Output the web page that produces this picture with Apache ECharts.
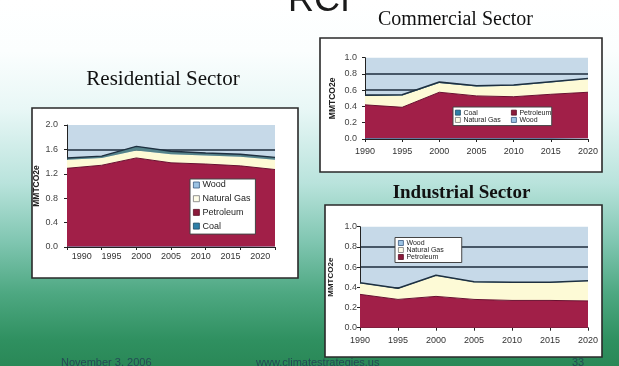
<!DOCTYPE html>
<html>
<head>
<meta charset="utf-8">
<script src="https://cdn.jsdelivr.net/npm/echarts@6/dist/echarts.min.js"></script>
<style>
html,body{margin:0;padding:0;background:#fff;}
#c{width:619px;height:366px;}
</style>
</head>
<body>
<div id="c"></div>
<script>
// ---------- data ----------
const years = ['1990','1995','2000','2005','2010','2015','2020'];

// Residential (MMTCO2e), stacked bottom to top
const resCoal        = [0.01, 0.01, 0.01, 0.01, 0.01, 0.01, 0.01];
const resPetroleum   = [1.28, 1.33, 1.45, 1.37, 1.35, 1.32, 1.26];
const resNaturalGas  = [0.14, 0.12, 0.12, 0.14, 0.14, 0.15, 0.16];
const resWood        = [0.03, 0.03, 0.07, 0.05, 0.04, 0.04, 0.04];

// Commercial
const comCoal        = [0.01, 0.01, 0.01, 0.01, 0.01, 0.01, 0.01];
const comPetroleum   = [0.41, 0.38, 0.565, 0.52, 0.51, 0.54, 0.565];
const comNaturalGas  = [0.11, 0.145, 0.115, 0.115, 0.135, 0.145, 0.16];
const comWood        = [0.01, 0.01, 0.01, 0.01, 0.01, 0.01, 0.01];

// Industrial
const indPetroleum   = [0.33, 0.28, 0.31, 0.28, 0.27, 0.27, 0.265];
const indNaturalGas  = [0.11, 0.105, 0.205, 0.17, 0.175, 0.175, 0.195];
const indWood        = [0.005, 0.005, 0.005, 0.005, 0.005, 0.005, 0.005];

const titles = {
  top: 'RCI',
  res: 'Residential Sector',
  com: 'Commercial Sector',
  ind: 'Industrial Sector'
};
const yName = 'MMTCO2e';
const footer = ['November 3, 2006', 'www.climatestrategies.us', '33'];

// ---------- styles ----------
const SANS = '"Liberation Sans", Arial, sans-serif';
const SERIF = '"Liberation Serif", "Times New Roman", serif';
const C = {
  plotBg: '#c6d9e8',
  grid: '#1d2b3c',
  petro: '#a11f48',
  petroLine: '#6a1030',
  gas: '#fdfad6',
  woodRes: '#55838a',
  woodLine: '#1e3040',
  coal: '#2e7fa8',
  woodLegend: '#9cc3e4',
  axis: '#222'
};

const chart = echarts.init(document.getElementById('c'), null, {renderer: 'canvas'});

function yAxisCfg(gridIndex, max, interval, margin, nameGap, nameSize) {
  return {
    type: 'value', gridIndex, min: 0, max, interval,
    name: yName, nameLocation: 'middle', nameRotate: 90, nameGap,
    nameTextStyle: {fontFamily: SANS, fontSize: nameSize, fontWeight: 'bold', color: '#222'},
    axisLine: {show: true, lineStyle: {color: C.axis, width: 1}},
    axisTick: {show: true, length: 3, lineStyle: {color: C.axis}},
    axisLabel: {fontFamily: SANS, fontSize: 9, color: '#444', margin,
      formatter: v => v.toFixed(1)},
    splitLine: {show: true, showMinLine: false, showMaxLine: false,
      lineStyle: {color: C.grid, width: 1.6}}
  };
}
function xAxisCfg(gridIndex, showLabel, margin) {
  return {
    type: 'category', gridIndex, data: years, boundaryGap: false, position: 'bottom',
    axisLine: {show: true, lineStyle: {color: C.axis, width: 1}},
    axisTick: {show: true, length: 3, alignWithLabel: true, lineStyle: {color: C.axis}},
    axisLabel: {show: showLabel, fontFamily: SANS, fontSize: 9, color: '#333', margin, interval: 0},
    splitLine: {show: false}
  };
}
function area(name, data, xi, yi, stack, fill, line, lw) {
  return {
    type: 'line', name, data, xAxisIndex: xi, yAxisIndex: yi, stack,
    symbol: 'none', smooth: false, silent: true,
    itemStyle: {color: fill},
    lineStyle: {color: line, width: lw},
    areaStyle: {color: fill, opacity: 1}
  };
}
function legendCfg(names, left, top, fontSize, lineH, gap, sw, box, z) {
  const sty = {
    'Wood': {color: C.woodLegend, borderColor: '#3a5a80', borderWidth: 0.8},
    'Natural Gas': {color: '#fffde8', borderColor: '#777', borderWidth: 0.8},
    'Petroleum': {color: '#8b1a3a', borderColor: '#5a0f25', borderWidth: 0.8},
    'Coal': {color: C.coal, borderColor: '#1c4a66', borderWidth: 0.8}
  };
  const cfg = {
    orient: 'vertical', left, top, padding: 0, itemGap: gap,
    itemWidth: sw, itemHeight: sw, icon: 'rect', selectedMode: false,
    textStyle: {fontFamily: SANS, fontSize, lineHeight: lineH, color: '#222', padding: [0,0,0,-2]},
    data: names.map(n => ({name: n, itemStyle: sty[n]})),
    z: z || 6
  };
  if (box) {
    cfg.padding = box;
    cfg.backgroundColor = '#ffffff';
    cfg.borderColor = '#444';
    cfg.borderWidth = 1;
  }
  return cfg;
}

const bgGrad = new echarts.graphic.LinearGradient(0, 0, 0, 1, [
  {offset: 0, color: '#ffffff'},
  {offset: 0.14, color: '#fbfefe'},
  {offset: 0.30, color: '#e8f7f6'},
  {offset: 0.50, color: '#b9e3dc'},
  {offset: 0.66, color: '#80c6b1'},
  {offset: 0.80, color: '#4ea882'},
  {offset: 0.93, color: '#2f9060'},
  {offset: 1, color: '#2a8857'}
]);

const option = {
  animation: false,
  graphic: [
    {type: 'rect', z: -100, silent: true, shape: {x: 0, y: 0, width: 619, height: 366}, style: {fill: bgGrad}},
    {type: 'rect', z: -50, silent: true, shape: {x: 32, y: 108, width: 266, height: 170}, style: {fill: '#fff', stroke: '#2a2a2a', lineWidth: 1.6}},
    {type: 'rect', z: -50, silent: true, shape: {x: 320, y: 38, width: 282, height: 134}, style: {fill: '#fff', stroke: '#2a2a2a', lineWidth: 1.6}},
    {type: 'rect', z: -50, silent: true, shape: {x: 325, y: 205, width: 277, height: 152}, style: {fill: '#fff', stroke: '#2a2a2a', lineWidth: 1.6}},
    // titles
    {type: 'text', z: 10, x: 288, y: 0.6, style: {text: titles.top, font: '36px ' + SANS, fill: '#1a1a1a', textAlign: 'left', textVerticalAlign: 'middle'}},
    {type: 'text', z: 10, x: 163, y: 79.8, style: {text: titles.res, font: '21px ' + SERIF, fill: '#111', textAlign: 'center', textVerticalAlign: 'middle'}},
    {type: 'text', z: 10, x: 455.5, y: 20, style: {text: titles.com, font: '20px ' + SERIF, fill: '#111', textAlign: 'center', textVerticalAlign: 'middle'}},
    {type: 'text', z: 10, x: 461.5, y: 192.7, style: {text: titles.ind, font: 'bold 19px ' + SERIF, fill: '#111', textAlign: 'center', textVerticalAlign: 'middle'}},
    // footer
    {type: 'text', z: 10, x: 61, y: 362.5, style: {text: footer[0], font: '11px ' + SANS, fill: '#234a55', textAlign: 'left', textVerticalAlign: 'middle'}},
    {type: 'text', z: 10, x: 256, y: 362.5, style: {text: footer[1], font: '11px ' + SANS, fill: '#234a55', textAlign: 'left', textVerticalAlign: 'middle'}},
    {type: 'text', z: 10, x: 572, y: 362.5, style: {text: footer[2], font: '11px ' + SANS, fill: '#234a55', textAlign: 'left', textVerticalAlign: 'middle'}}
  ],
  grid: [
    {left: 67, top: 125, width: 208, height: 122, show: true, backgroundColor: C.plotBg, borderWidth: 0},
    {left: 365, top: 57.7, width: 223, height: 81.3, show: true, backgroundColor: C.plotBg, borderWidth: 0},
    {left: 360, top: 226.7, width: 228, height: 101, show: true, backgroundColor: C.plotBg, borderWidth: 0}
  ],
  xAxis: [
    xAxisCfg(0, false, 5),
    Object.assign(xAxisCfg(0, true, 5), {boundaryGap: true, axisLine: {show: false}, axisTick: {show: false}}),
    xAxisCfg(1, true, 8),
    xAxisCfg(2, true, 8)
  ],
  yAxis: [
    yAxisCfg(0, 2, 0.4, 9, 24, 8.5),
    yAxisCfg(1, 1, 0.2, 8, 28, 8.5),
    yAxisCfg(2, 1, 0.2, 3, 25, 8)
  ],
  legend: [
    legendCfg(['Wood', 'Natural Gas', 'Petroleum', 'Coal'], 190, 179, 9, 10, 3.7, 6, [1, 5, 3, 3], 6),
    legendCfg(['Coal', 'Natural Gas'], 453, 107, 7, 7.3, 0, 5, [2, 51, 2, 2], 6),
    legendCfg(['Petroleum', 'Wood'], 511, 109, 7, 7.3, 0, 5, null, 8),
    legendCfg(['Wood', 'Natural Gas', 'Petroleum'], 395, 237.5, 7, 6.6, 0, 5, [2, 18, 2, 3], 6)
  ],
  series: [
    area('Coal', resCoal, 0, 0, 'res', C.coal, C.coal, 0),
    area('Petroleum', resPetroleum, 0, 0, 'res', C.petro, C.petroLine, 1),
    area('Natural Gas', resNaturalGas, 0, 0, 'res', C.gas, C.gas, 0),
    area('Wood', resWood, 0, 0, 'res', C.woodRes, C.woodLine, 1.4),

    area('Coal', comCoal, 2, 1, 'com', C.coal, C.coal, 0),
    area('Petroleum', comPetroleum, 2, 1, 'com', C.petro, C.petroLine, 1),
    area('Natural Gas', comNaturalGas, 2, 1, 'com', C.gas, C.gas, 0),
    area('Wood', comWood, 2, 1, 'com', C.woodRes, C.woodLine, 1.6),

    area('Petroleum', indPetroleum, 3, 2, 'ind', C.petro, C.petroLine, 1),
    area('Natural Gas', indNaturalGas, 3, 2, 'ind', C.gas, C.gas, 0),
    area('Wood', indWood, 3, 2, 'ind', C.woodRes, C.woodLine, 1.6)
  ]
};
chart.setOption(option);
</script>
</body>
</html>
